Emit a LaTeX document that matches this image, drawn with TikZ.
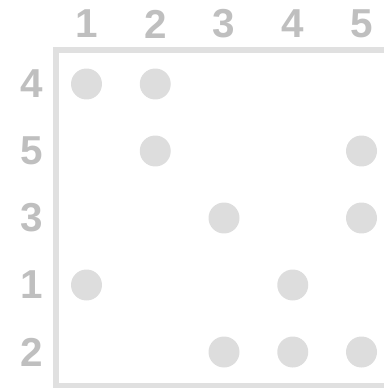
\documentclass[tikz,border=0pt]{standalone}
\usepackage{fontspec}
\setmainfont{Liberation Sans}
\usetikzlibrary{positioning}
\definecolor{labelgray}{HTML}{BFBFBF}
\definecolor{dotgray}{HTML}{DDDDDD}
\definecolor{framegray}{HTML}{E0E0E0}
\tikzstyle{axislabel} = [inner sep=0pt, text=labelgray, font=\fontsize{23}{23}\selectfont\bfseries]
\tikzstyle{dot} = [circle, fill=dotgray, draw=none, minimum size=0.62cm, inner sep=0pt]
\tikzstyle{frame} = [draw=framegray, line width=0.12cm]

\begin{document}
\begin{tikzpicture}[x=0.02cm, y=-0.02cm]
\useasboundingbox (0,0) rectangle (384,388);
% frame
\draw[frame] (400,50) -- (56,50) -- (56,385.5) -- (400,385.5);
% column labels
\node (c1) [axislabel] at (86.5,24) {1};
\node (c2) [axislabel] at (155.25,24) {2};
\node (c3) [axislabel] at (224,24) {3};
\node (c4) [axislabel] at (292.75,24) {4};
\node (c5) [axislabel] at (361.5,24) {5};
% row labels
\node (r4) [axislabel] at (32,84) {4};
\node (r5) [axislabel] at (32,151) {5};
\node (r3) [axislabel] at (32,218) {3};
\node (r1) [axislabel] at (32,285) {1};
\node (r2) [axislabel] at (32,352) {2};
% dots
\node (d41) [dot] at (86.5,84) {};
\node (d42) [dot] at (155.25,84) {};
\node (d52) [dot] at (155.25,151) {};
\node (d55) [dot] at (361.5,151) {};
\node (d33) [dot] at (224,218) {};
\node (d35) [dot] at (361.5,218) {};
\node (d11) [dot] at (86.5,285) {};
\node (d14) [dot] at (292.75,285) {};
\node (d23) [dot] at (224,352) {};
\node (d24) [dot] at (292.75,352) {};
\node (d25) [dot] at (361.5,352) {};
\end{tikzpicture}
\end{document}
